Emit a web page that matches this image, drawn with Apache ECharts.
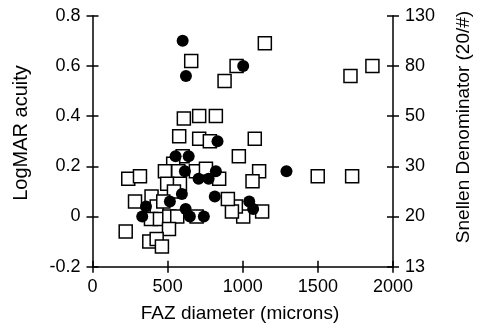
<!DOCTYPE html>
<html>
<head>
<meta charset="utf-8">
<script src="https://cdn.jsdelivr.net/npm/echarts@6/dist/echarts.min.js"></script>
<style>html,body{margin:0;padding:0;background:#fff}#c{width:481px;height:331px}</style>
</head>
<body>
<div id="c"></div>
<script>
var xTicks = [0, 500, 1000, 1500, 2000];
var logmarTicks = [-0.2, 0, 0.2, 0.4, 0.6, 0.8];
var snellenLabels = ['13', '20', '30', '50', '80', '130'];

var squaresFAZ = [657, 959, 879, 1147, 1863, 1717, 608, 710, 821, 577, 710, 781, 1080, 974, 600, 537, 482, 571, 688, 755, 843, 1109, 1065, 1499, 1728, 238, 316, 497, 582, 542, 393, 283, 427, 471, 693, 389, 449, 511, 564, 509, 221, 378, 427, 462, 1129, 1003, 954, 928, 901];
var squaresLogMAR = [0.62, 0.60, 0.54, 0.69, 0.60, 0.56, 0.39, 0.40, 0.40, 0.32, 0.31, 0.30, 0.31, 0.24, 0.24, 0.21, 0.18, 0.18, 0.18, 0.19, 0.15, 0.18, 0.14, 0.16, 0.16, 0.15, 0.16, 0.13, 0.13, 0.10, 0.08, 0.06, 0.04, 0.06, 0.00, -0.01, -0.01, 0.00, 0.00, -0.05, -0.06, -0.10, -0.09, -0.12, 0.02, 0.00, 0.04, 0.02, 0.07];

var circlesFAZ = [600, 622, 1003, 832, 553, 640, 615, 821, 706, 773, 595, 356, 515, 620, 648, 741, 331, 1291, 1043, 1069, 814];
var circlesLogMAR = [0.70, 0.56, 0.60, 0.30, 0.24, 0.24, 0.18, 0.18, 0.15, 0.15, 0.09, 0.04, 0.06, 0.03, 0.00, 0.00, 0.00, 0.18, 0.06, 0.03, 0.08];

function pairs(xs, ys) { return xs.map(function (x, i) { return [x, ys[i]]; }); }

var FONT = '"Liberation Sans", Arial, Helvetica, sans-serif';
var lineStyle = { color: '#000', width: 1.5 };
var lblStyle = { color: '#000', fontSize: 18, fontFamily: FONT };

var chart = echarts.init(document.getElementById('c'), null, { renderer: 'canvas' });
var yCommon = { type: 'value', min: logmarTicks[0], max: logmarTicks[logmarTicks.length - 1], interval: 0.2, splitLine: { show: false } };
var xCommon = { type: 'value', min: xTicks[0], max: xTicks[xTicks.length - 1], interval: 500, splitLine: { show: false } };

chart.setOption({
  animation: false,
  backgroundColor: '#fff',
  grid: { left: 92.5, right: 88, top: 15.7, bottom: 64.3, containLabel: false },
  xAxis: [
    Object.assign({}, xCommon, {
      position: 'bottom',
      axisLine: { show: true, onZero: false, lineStyle: lineStyle },
      axisTick: { show: true, inside: false, length: 6, lineStyle: lineStyle },
      axisLabel: Object.assign({ margin: 11, formatter: function (v) { return String(v); } }, lblStyle)
    }),
    Object.assign({}, xCommon, {
      position: 'bottom',
      axisLine: { show: false, onZero: false },
      axisTick: { show: true, inside: true, length: 6, lineStyle: lineStyle },
      axisLabel: { show: false }
    })
  ],
  yAxis: [
    Object.assign({}, yCommon, {
      position: 'left',
      axisLine: { show: true, onZero: false, lineStyle: lineStyle },
      axisTick: { show: true, inside: false, length: 6, lineStyle: lineStyle },
      axisLabel: Object.assign({ margin: 12, formatter: function (v) { return String(Math.round(v * 10) / 10); } }, lblStyle)
    }),
    Object.assign({}, yCommon, {
      position: 'right',
      axisLine: { show: true, onZero: false, lineStyle: lineStyle },
      axisTick: { show: true, inside: false, length: 6, lineStyle: lineStyle },
      axisLabel: Object.assign({ margin: 12, formatter: function (v) { return snellenLabels[Math.round((v - logmarTicks[0]) / 0.2)]; } }, lblStyle)
    }),
    Object.assign({}, yCommon, {
      position: 'left',
      axisLine: { show: false, onZero: false },
      axisTick: { show: true, inside: true, length: 6, lineStyle: lineStyle },
      axisLabel: { show: false }
    }),
    Object.assign({}, yCommon, {
      position: 'right',
      axisLine: { show: false, onZero: false },
      axisTick: { show: true, inside: true, length: 6, lineStyle: lineStyle },
      axisLabel: { show: false }
    })
  ],
  series: [
    {
      type: 'scatter', xAxisIndex: 0, yAxisIndex: 0,
      symbol: 'rect', symbolSize: 13,
      itemStyle: { color: '#fff', borderColor: '#000', borderWidth: 1.5, opacity: 1 },
      data: pairs(squaresFAZ, squaresLogMAR)
    },
    {
      type: 'scatter', xAxisIndex: 0, yAxisIndex: 0,
      symbol: 'circle', symbolSize: 12,
      itemStyle: { color: '#000', opacity: 1 },
      data: pairs(circlesFAZ, circlesLogMAR)
    }
  ],
  graphic: [
    { type: 'text', x: 21, y: 133, rotation: Math.PI / 2, style: { text: 'LogMAR acuity', fill: '#000', font: '20px ' + FONT, align: 'center', verticalAlign: 'middle' } },
    { type: 'text', x: 464, y: 127, rotation: Math.PI / 2, style: { text: 'Snellen Denominator (20/#)', fill: '#000', font: '19px ' + FONT, align: 'center', verticalAlign: 'middle' } },
    { type: 'text', x: 240, y: 314, style: { text: 'FAZ diameter (microns)', fill: '#000', font: '19px ' + FONT, align: 'center', verticalAlign: 'middle' } }
  ]
});
</script>
</body>
</html>
